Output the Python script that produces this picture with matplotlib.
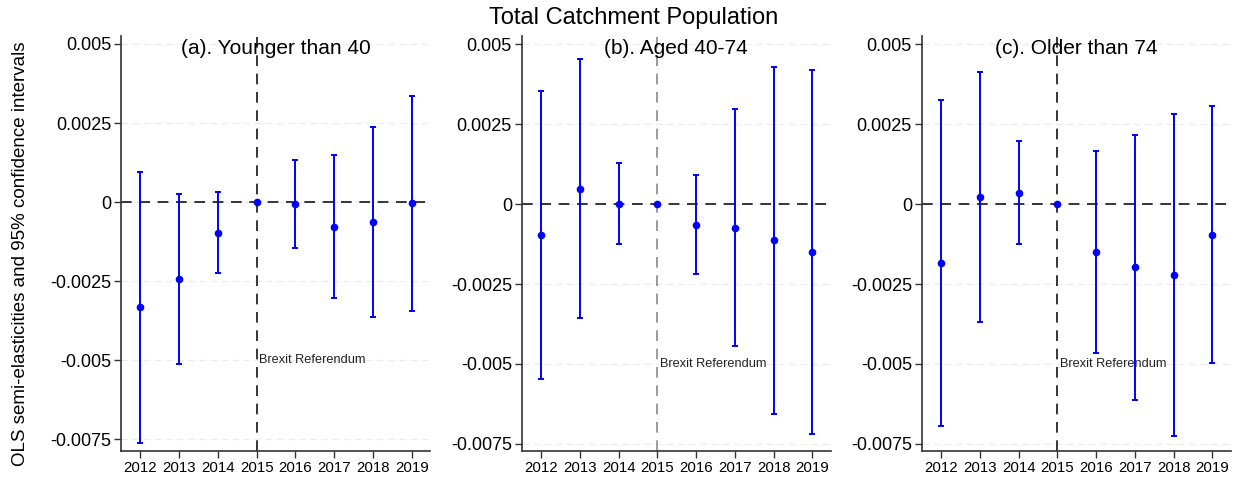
import numpy as np
import matplotlib
matplotlib.use("Agg")
import matplotlib.pyplot as plt

plt.rcParams['font.family'] = ['Liberation Sans', 'DejaVu Sans']
plt.rcParams['axes.unicode_minus'] = False

years = [2012, 2013, 2014, 2015, 2016, 2017, 2018, 2019]
ytick_vals = [0.005, 0.0025, 0, -0.0025, -0.005, -0.0075]
ytick_labels = ["0.005", "0.0025", "0", "-0.0025", "-0.005", "-0.0075"]

titles = ["(a). Younger than 40", "(b). Aged 40-74", "(c). Older than 74"]

est_a = [-0.00332, -0.00244, -0.00098, 0, -0.00006, -0.00078, -0.00062, -0.00002]
lo_a = [-0.00763, -0.00513, -0.00225, 0, -0.00146, -0.00303, -0.00363, -0.00345]
hi_a = [0.00095, 0.00025, 0.00032, 0, 0.00133, 0.00149, 0.00238, 0.00336]

est_b = [-0.00098, 0.00048, 0.00001, 0, -0.00065, -0.00076, -0.00113, -0.0015]
lo_b = [-0.00548, -0.00355, -0.00124, 0, -0.0022, -0.00444, -0.00657, -0.00718]
hi_b = [0.00353, 0.00452, 0.00127, 0, 0.00091, 0.00296, 0.00428, 0.00419]

est_c = [-0.00185, 0.00023, 0.00035, 0, -0.00149, -0.00198, -0.00223, -0.00096]
lo_c = [-0.00693, -0.0037, -0.00126, 0, -0.00467, -0.00612, -0.00725, -0.00496]
hi_c = [0.00326, 0.00413, 0.00197, 0, 0.00167, 0.00216, 0.0028, 0.00305]

panels = [(est_a, lo_a, hi_a), (est_b, lo_b, hi_b), (est_c, lo_c, hi_c)]
vline_colors = ["black", "#808080", "black"]
lefts = [0.0981, 0.4231, 0.7475]
ybottoms = [-0.00787, -0.00772, -0.00772]

fig = plt.figure(figsize=(12.33, 4.78), dpi=100)

for i, (est, lo, hi) in enumerate(panels):
    ax = fig.add_axes([lefts[i], 0.0565, 0.2506, 0.868])
    x = np.array(years)
    est = np.array(est)
    lo = np.array(lo)
    hi = np.array(hi)
    m = hi != lo

    ax.set_xlim(2011.5, 2019.47)
    ax.set_ylim(ybottoms[i], 0.00525)

    for v in ytick_vals:
        ax.axhline(v, color="#ebebeb", lw=0.8, ls=(0, (6, 4)), zorder=0)
    ax.axhline(0, color="black", lw=1.1, ls=(0, (7, 5)), zorder=1)
    ax.axvline(2015, color=vline_colors[i], lw=1.1, ls=(0, (7, 5)), zorder=1)

    ax.errorbar(x[m], est[m], yerr=[est[m] - lo[m], hi[m] - est[m]],
                fmt="none", ecolor="#0000ff", elinewidth=1.4, capsize=2.5,
                capthick=1.4, zorder=3)
    ax.plot(x, est, "o", color="#0000ff", ms=4.5, zorder=4)

    ax.text(2015.07, -0.005, "Brexit Referendum", fontsize=9.2,
            va="center", ha="left", color="#222222")
    ax.text(0.5, 0.97, titles[i], transform=ax.transAxes, ha="center",
            va="center", fontsize=15)

    ax.set_xticks(years)
    ax.set_xticklabels([str(y) for y in years], fontsize=10.8)
    ax.set_yticks(ytick_vals)
    ax.set_yticklabels(ytick_labels, fontsize=13)
    ax.tick_params(direction="out", length=5, width=1, color="#333333")
    ax.tick_params(axis="x", pad=2)
    ax.tick_params(axis="y", pad=2)
    for s in ["top", "right"]:
        ax.spines[s].set_visible(False)
    for s in ["left", "bottom"]:
        ax.spines[s].set_color("#333333")
        ax.spines[s].set_linewidth(1.2)

fig.text(0.514, 0.962, "Total Catchment Population", ha="center",
         va="center", fontsize=17)
fig.text(0.017, 0.47, "OLS semi-elasticities and 95% confidence intervals",
         rotation=90, ha="center", va="center", fontsize=13.5)

fig.savefig("out.png", dpi=100)
